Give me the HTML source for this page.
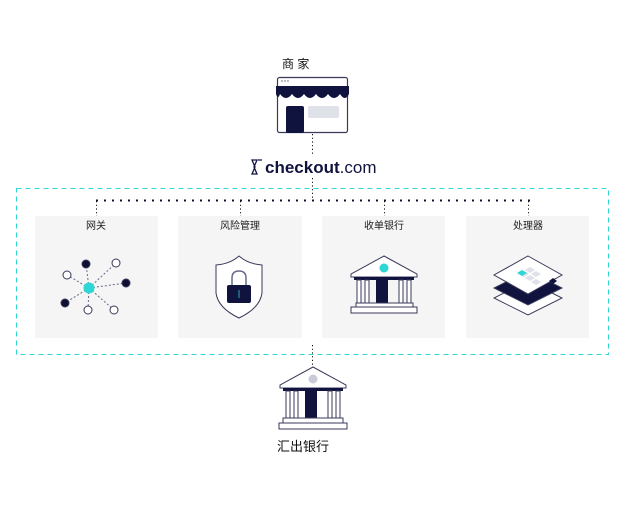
<!DOCTYPE html>
<html><head><meta charset="utf-8"><style>
html,body{margin:0;padding:0;background:#fff;}
svg{display:block}
text{font-family:"Liberation Sans","Noto Sans CJK SC",sans-serif;}
</style></head><body>
<svg width="637" height="521" viewBox="0 0 637 521" xmlns="http://www.w3.org/2000/svg">
<!-- merchant -->
<text x="282" y="68" font-size="12" fill="#111">商 家</text>
<g stroke="#3a3a5a" stroke-width="1.2" fill="#fff">
<rect x="277.5" y="77.5" width="70" height="55" rx="2"/>
</g>
<circle cx="282" cy="81" r="1" fill="#aab"/><circle cx="285" cy="81" r="1" fill="#aab"/><circle cx="288" cy="81" r="1" fill="#aab"/>
<path d="M276 86 H349 V94 Q345 102 340 94 Q334 102 328 94 Q322 102 316 94 Q310 102 304 94 Q298 102 292 94 Q286 102 280 94 Q278 100 276 94Z" fill="#11133f"/>
<rect x="286" y="106" width="18" height="27" rx="2" fill="#11133f"/>
<rect x="308" y="106" width="31" height="12" rx="2" fill="#e0e2ea"/>
<line x1="312.5" y1="134" x2="312.5" y2="155" stroke="#111" stroke-width="1" stroke-dasharray="1.2 2.5"/>
<!-- logo -->
<path d="M252 160 L257 160 L254 167 L257 174 L252 174 L255 167Z M262 160 L258 160" fill="none" stroke="#11133f" stroke-width="1.3"/>
<text x="265" y="173" font-size="17" font-weight="bold" fill="#11133f">checkout<tspan font-weight="normal">.com</tspan></text>
<line x1="312.5" y1="178" x2="312.5" y2="200" stroke="#111" stroke-width="1" stroke-dasharray="1.2 2.5"/>
<!-- dashed box -->
<rect x="16.5" y="188.5" width="592" height="166" fill="none" stroke="#2fd6d6" stroke-width="1" stroke-dasharray="5 4"/>
<line x1="96" y1="200.5" x2="530" y2="200.5" stroke="#11133f" stroke-width="2" stroke-dasharray="2 6"/>
<g stroke="#111" stroke-width="1" stroke-dasharray="1.2 2.5">
<line x1="96.5" y1="201" x2="96.5" y2="216"/><line x1="240.5" y1="201" x2="240.5" y2="216"/>
<line x1="384.5" y1="201" x2="384.5" y2="216"/><line x1="528.5" y1="201" x2="528.5" y2="216"/>
</g>
<g fill="#f5f5f5">
<rect x="35" y="216" width="123" height="122"/><rect x="178" y="216" width="124" height="122"/>
<rect x="322" y="216" width="123" height="122"/><rect x="466" y="216" width="123" height="122"/>
</g>
<g font-size="10" fill="#222" text-anchor="middle">
<text x="96" y="229">网关</text><text x="240" y="229">风险管理</text>
<text x="384" y="229">收单银行</text><text x="528" y="229">处理器</text>
</g>
<!-- gateway -->
<g stroke="#666a88" stroke-width="1" stroke-dasharray="2 2">
<line x1="89" y1="288" x2="86" y2="264"/><line x1="89" y1="288" x2="116" y2="263"/>
<line x1="89" y1="288" x2="67" y2="275"/><line x1="89" y1="288" x2="126" y2="283"/>
<line x1="89" y1="288" x2="65" y2="303"/><line x1="89" y1="288" x2="88" y2="310"/>
<line x1="89" y1="288" x2="114" y2="310"/>
</g>
<g stroke="#3a3a5a" stroke-width="1">
<circle cx="86" cy="264" r="4" fill="#0d1030"/><circle cx="116" cy="263" r="4" fill="#fff"/>
<circle cx="67" cy="275" r="4" fill="#fff"/><circle cx="126" cy="283" r="4" fill="#0d1030"/>
<circle cx="65" cy="303" r="4" fill="#0d1030"/><circle cx="88" cy="310" r="4" fill="#fff"/>
<circle cx="114" cy="310" r="4" fill="#fff"/><circle cx="89" cy="288" r="5.5" fill="#2fd6d6" stroke="none"/>
</g>
<!-- shield -->
<path d="M239 256 Q248 264 262 265 V293 Q260 308 239 318 Q218 308 216 293 V265 Q230 264 239 256Z" fill="#fff" stroke="#3a3a5a" stroke-width="1"/>
<path d="M232 286 V278 Q232 271 239 271 Q246 271 246 278 V286" fill="none" stroke="#666a88" stroke-width="1.5"/>
<rect x="227" y="285" width="24" height="18" rx="2" fill="#11133f"/>
<line x1="239" y1="290" x2="239" y2="298" stroke="#2fa6b6" stroke-width="1"/>
<!-- bank acquiring -->
<g transform="translate(384,256)">
<path d="M0 0 L33 18 V21 H-33 V18Z" fill="#fff" stroke="#3a3a5a" stroke-width="1"/>
<circle cx="0" cy="12" r="4.5" fill="#2fd6d6"/>
<rect x="-30" y="21" width="60" height="3" fill="#11133f"/>
<g fill="#fff" stroke="#3a3a5a" stroke-width="1">
<rect x="-27" y="24" width="4" height="23"/><rect x="-19" y="24" width="4" height="23"/>
<rect x="15" y="24" width="4" height="23"/><rect x="23" y="24" width="4" height="23"/>
</g>
<rect x="-8" y="24" width="12" height="23" fill="#11133f"/>
<rect x="-28" y="47" width="57" height="4" fill="#fff" stroke="#3a3a5a"/>
<rect x="-33" y="51" width="66" height="6" fill="#fff" stroke="#3a3a5a"/>
</g>
<!-- processor -->
<g stroke="#3a3a5a" stroke-width="1">
<path d="M528 279 L562 296 L528 313 L494 296Z" fill="#fff" transform="translate(0,2)"/>
<path d="M528 271 L562 288 L528 305 L494 288Z" fill="#11133f"/>
<path d="M528 256 L562 275 L528 294 L494 275Z" fill="#fff"/>
</g>
<g fill="#dfe1e8">
<path d="M530 267 l5 3 -5 3 -5 -3z"/><path d="M536 271 l5 3 -5 3 -5 -3z"/><path d="M530 275 l5 3 -5 3 -5 -3z"/><path d="M524 271 l5 3 -5 3 -5 -3z"/><path d="M536 279 l5 3 -5 3 -5 -3z"/>
</g>
<path d="M522 270 l5 3 -5 3 -5 -3z" fill="#2fd6d6"/>
<path d="M553 278 l4 3 -4 3 -4 -3z" fill="#11133f"/>
<!-- bottom -->
<line x1="312.5" y1="345" x2="312.5" y2="367" stroke="#111" stroke-width="1" stroke-dasharray="1.2 2.5"/>
<g transform="translate(313,367)">
<path d="M0 0 L33 18 V21 H-33 V18Z" fill="#fff" stroke="#3a3a5a" stroke-width="1"/>
<circle cx="0" cy="12" r="4.5" fill="#c9ccd8"/>
<rect x="-30" y="21" width="60" height="3" fill="#11133f"/>
<g fill="#fff" stroke="#3a3a5a" stroke-width="1">
<rect x="-27" y="24" width="4" height="27"/><rect x="-19" y="24" width="4" height="27"/>
<rect x="15" y="24" width="4" height="27"/><rect x="23" y="24" width="4" height="27"/>
</g>
<rect x="-8" y="24" width="12" height="27" fill="#11133f"/>
<rect x="-30" y="51" width="60" height="5" fill="#fff" stroke="#3a3a5a"/>
<rect x="-34" y="56" width="68" height="6" fill="#fff" stroke="#3a3a5a"/>
</g>
<text x="277" y="451" font-size="13" fill="#111">汇出银行</text>
</svg>
</body></html>
